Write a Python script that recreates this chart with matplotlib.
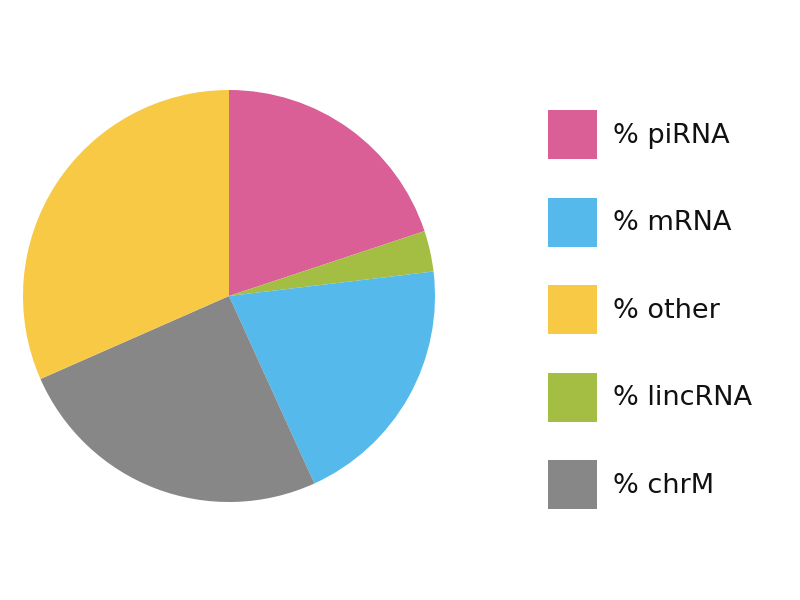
import matplotlib
matplotlib.use('Agg')
import matplotlib.pyplot as plt
from matplotlib.patches import Patch

plt.rcParams['font.family'] = ['DejaVu Sans']

# Dados (ordem horária a partir do topo)
categorias = ['% piRNA', '% lincRNA', '% mRNA', '% chrM', '% other']
valores = [19.9, 3.2, 20.1, 25.2, 31.6]
cores = {
    '% piRNA': '#D95F96',
    '% mRNA': '#55B9EB',
    '% other': '#F7C944',
    '% lincRNA': '#A3BE43',
    '% chrM': '#878787',
}
ordem_legenda = ['% piRNA', '% mRNA', '% other', '% lincRNA', '% chrM']

fig = plt.figure(figsize=(8, 6), dpi=100)
ax = fig.add_axes([23 / 800, 98 / 600, 412 / 800, 412 / 600])
ax.pie(valores, colors=[cores[c] for c in categorias], startangle=90,
       counterclock=False, radius=1.0, wedgeprops={'linewidth': 0})
ax.set_xlim(-1, 1)
ax.set_ylim(-1, 1)
ax.set_aspect('equal')
ax.axis('off')

fs = 19.5
fs_px = fs * 100 / 72
hh = (49 / fs_px - 0.245) / 0.65
handles = [Patch(facecolor=cores[c], edgecolor='none') for c in ordem_legenda]
fig.legend(handles, ordem_legenda, loc='upper left',
           bbox_to_anchor=(548 / 800, 1 - 110 / 600), frameon=False,
           prop={'size': fs}, borderpad=0, borderaxespad=0,
           handlelength=49 / fs_px, handleheight=hh, handletextpad=16 / fs_px,
           labelspacing=38.5 / fs_px, labelcolor='#111111')

fig.savefig('out.png', dpi=100)
plt.close()
